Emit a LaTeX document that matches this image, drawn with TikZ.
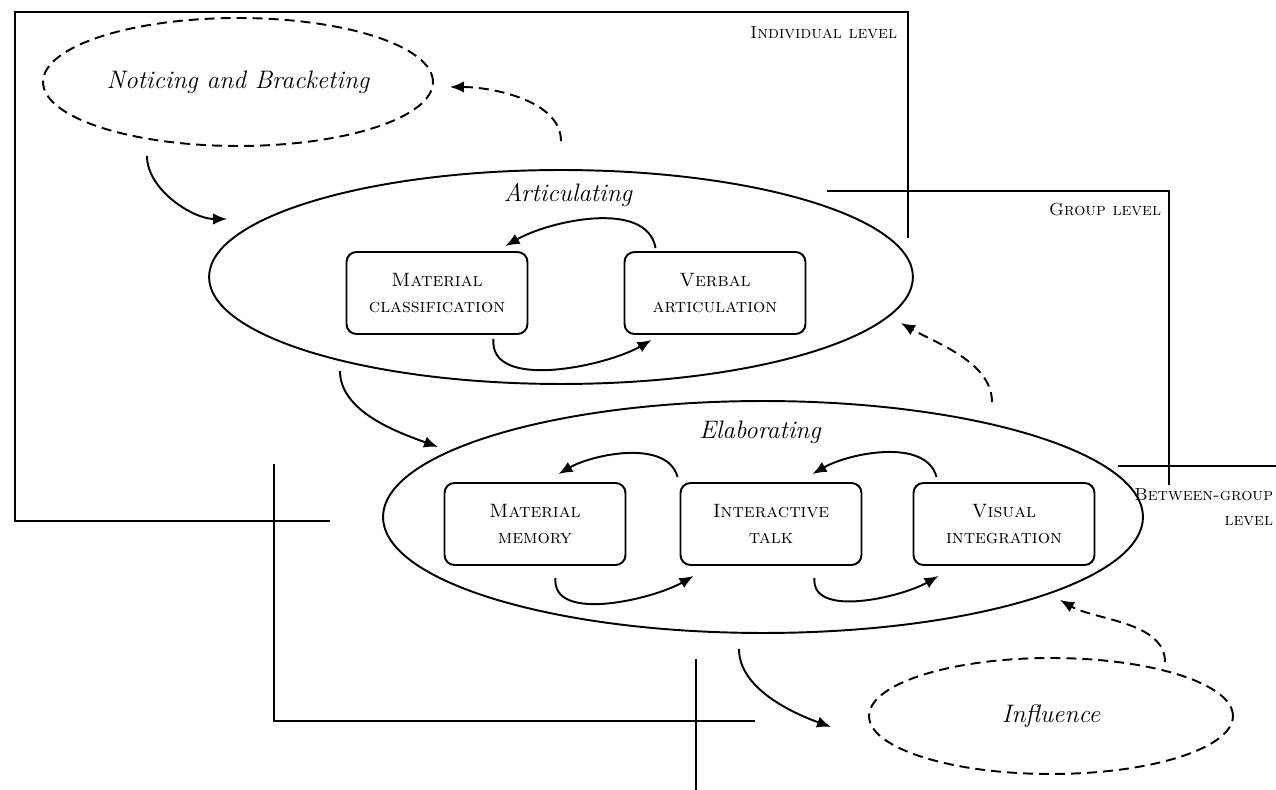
\documentclass[tikz,border=0pt]{standalone}
\usetikzlibrary{shapes.geometric,arrows.meta}

\begin{document}
\begin{tikzpicture}
  [x=0.02cm,y=0.02cm,line width=1.1pt,
   phase/.style={ellipse,draw,inner sep=0pt},
   act/.style={rectangle,rounded corners=2mm,draw,minimum width=3.62cm,minimum height=1.64cm,
     align=center,font=\fontsize{11}{15}\selectfont\scshape},
   lbl/.style={font=\Large\itshape},
   lvl/.style={font=\fontsize{10}{14}\selectfont\scshape,inner sep=0pt},
   flow/.style={-{Latex[length=8pt,width=6.5pt]},looseness=0.85},
   fb/.style={flow,dash pattern=on 2mm off 1.2mm}]
  \useasboundingbox (0,0) rectangle (1276,-790);

  % the three levels
  \draw (908,-238) -- (908,-12) -- (15,-12) -- (15,-521) -- (330,-521);
  \node[lvl,anchor=east] (indiv) at (898,-33) {Individual level};
  \draw (827,-191) -- (1169,-191) -- (1169,-485);
  \draw (274,-464) -- (274,-721) -- (755,-721);
  \node[lvl,anchor=east] (group) at (1162,-210) {Group level};
  \draw (1118,-466) -- (1276,-466);
  \draw (696,-659) -- (696,-790);
  \node[lvl,anchor=east,align=right] (between) at (1274,-507) {Between-group\\level};

  % phases
  \node[phase,dash pattern=on 2mm off 1.2mm,minimum width=7.8cm,minimum height=2.56cm,lbl] (notice) at (238,-82) {Noticing and Bracketing};
  \node[phase,minimum width=14.08cm,minimum height=4.28cm] (artic) at (561,-277) {};
  \node[lbl] (articname) at (568,-195) {Articulating};
  \node[act] (matclass) at (437,-293) {Material\\classification};
  \node[act] (verbal) at (715,-293) {Verbal\\articulation};

  \node[phase,minimum width=15.2cm,minimum height=4.64cm] (elab) at (763,-517) {};
  \node[lbl] (elabname) at (760,-432) {Elaborating};
  \node[act] (matmem) at (535,-524) {Material\\memory};
  \node[act] (inter) at (771,-524) {Interactive\\talk};
  \node[act] (visual) at (1004,-524) {Visual\\integration};

  \node[phase,dash pattern=on 2mm off 1.2mm,minimum width=7.28cm,minimum height=2.32cm,lbl] (infl) at (1051,-716) {Influence};

  % inner loops
  \draw[flow] ([shift={(32,3)}]verbal.north west) to[out=100,in=30] ([shift={(-23,5)}]matclass.north east);
  \draw[flow] ([shift={(-35,-4)}]matclass.south east) to[out=-95,in=-150] ([shift={(28,-5)}]verbal.south west);
  \draw[flow] ([shift={(-2,5)}]inter.north west) to[out=105,in=30] ([shift={(-68,8)}]matmem.north east);
  \draw[flow] ([shift={(24,5)}]visual.north west) to[out=105,in=30] ([shift={(-50,8)}]inter.north east);
  \draw[flow] ([shift={(-71,-12)}]matmem.south east) to[out=-95,in=-150] ([shift={(14,-10)}]inter.south west);
  \draw[flow] ([shift={(-48,-12)}]inter.south east) to[out=-95,in=-150] ([shift={(26,-10)}]visual.south west);

  % between phases
  \draw[flow] ([shift={(-91,-9)}]notice.south) to[out=-90,in=180] ([shift={(19,58)}]artic.west);
  \draw[flow] ([shift={(-221,14)}]artic.south) to[out=-90,in=160] ([shift={(56,70)}]elab.west);
  \draw[flow] ([shift={(-24,-15)}]elab.south) to[out=-90,in=160] ([shift={(-37,-11)}]infl.west);
  \draw[fb] ([shift={(114,-5)}]infl.north) to[out=90,in=-30] ([shift={(297,34)}]elab.south);
  \draw[fb] ([shift={(229,-2)}]elab.north) to[out=90,in=-30] ([shift={(-13,-46)}]artic.east);
  \draw[fb] ([shift={(0,28)}]artic.north) to[out=90,in=0] ([shift={(16,-5)}]notice.east);
\end{tikzpicture}
\end{document}
